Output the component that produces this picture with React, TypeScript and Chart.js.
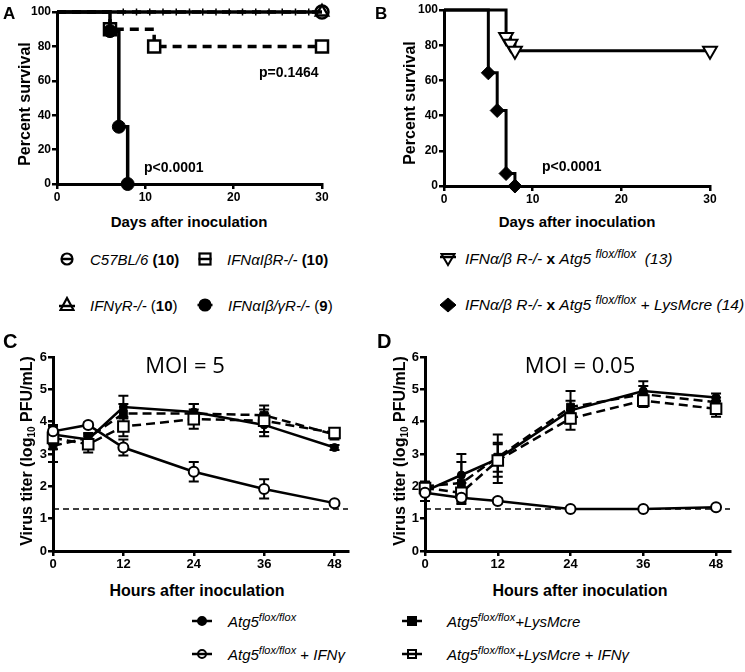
import React, { useEffect, useRef } from 'react';
import { Chart, registerables } from 'chart.js';
Chart.register(...registerables);

// ---------- Panel A: survival ----------
const daysC57 = [0, 30];
const survC57 = [100, 100];
const daysIFNgR = [0, 30];
const survIFNgR = [100, 100];
const censorDaysA = [7.5, 9, 10.5, 12, 13.5, 15, 16.5, 18, 19.5, 21, 22.5, 24, 25.5, 27, 28.5];
const daysIFNabR = [0, 6, 11, 30];
const survIFNabR = [100, 90, 80, 80];
const daysIFNabgR = [0, 6, 7, 8];
const survIFNabgR = [100, 88.9, 33.3, 0];
const dayTicks = [0, 10, 20, 30];
const pctTicks = [0, 20, 40, 60, 80, 100];

// ---------- Panel B: survival ----------
const daysAtg5 = [0, 7, 7.5, 8, 30];
const survAtg5 = [100, 84.6, 80.8, 76.9, 76.9];
const daysLys = [0, 5, 6, 7, 8];
const survLys = [100, 64.3, 42.9, 7.1, 0];

// ---------- Panels C/D: virus titer ----------
const hours = [0, 6, 12, 24, 36, 48];
const hourTicks = [0, 12, 24, 36, 48];
const titerTicks = [0, 1, 2, 3, 4, 5, 6];
const hourMax = 50.3;
const detectionLimit = 1.3;

const cAtg5 = [3.6, 3.45, 4.45, 4.3, 3.9, 3.2];
const cAtg5Err = [0.3, 0.15, 0.35, 0.25, 0.35, 0.08];
const cAtg5Ifn = [3.7, 3.9, 3.2, 2.45, 1.92, 1.48];
const cAtg5IfnErr = [0.15, 0.08, 0.25, 0.3, 0.3, 0.05];
const cLys = [3.25, 3.5, 4.25, 4.25, 4.2, 3.6];
const cLysErr = [0.5, 0.15, 0.3, 0.3, 0.3, 0.15];
const cLysIfn = [3.5, 3.3, 3.85, 4.08, 4.03, 3.65];
const cLysIfnErr = [0.35, 0.25, 0.3, 0.3, 0.35, 0.15];

const dAtg5 = [1.85, 2.35, 2.85, 4.35, 4.95, 4.75];
const dAtg5Err = [0.3, 0.65, 0.75, 0.6, 0.3, 0.12];
const dAtg5Ifn = [1.8, 1.65, 1.55, 1.3, 1.3, 1.35];
const dAtg5IfnErr = [0.05, 0.1, 0.08, 0.02, 0.02, 0.03];
const dLys = [2.0, 2.1, 2.9, 4.45, 4.85, 4.6];
const dLysErr = [0.1, 0.65, 0.45, 0.2, 0.25, 0.15];
const dLysIfn = [1.95, 1.8, 2.8, 4.1, 4.65, 4.4];
const dLysIfnErr = [0.1, 0.3, 0.5, 0.15, 0.2, 0.25];

const FONT = "'Liberation Sans', Arial, Helvetica, sans-serif";

const pts = (xs: number[], ys: number[]) => xs.map((x, i) => ({ x, y: ys[i] }));
const skipFirst = (n: number, r: number) => Array.from({ length: n }, (_, i) => (i === 0 ? 0 : r));

function axis(kind: 'x' | 'y', min: number, max: number, values: number[], size: number, fontSize: number) {
  return {
    type: 'linear',
    min,
    max,
    afterBuildTicks: (s: any) => {
      s.ticks = values.map((v) => ({ value: v }));
    },
    afterFit: (s: any) => {
      if (kind === 'x') s.height = size;
      else s.width = size;
    },
    grid: { drawOnChartArea: false, drawTicks: true, tickLength: 5, color: '#000', lineWidth: 2.5 },
    border: { display: true, color: '#000', width: 3 },
    ticks: { color: '#000', font: { family: FONT, size: fontSize, weight: 'bold' }, padding: 1, autoSkip: false, maxRotation: 0 },
    title: { display: false },
  };
}

const errorBarPlugin = {
  id: 'errbars',
  beforeDatasetsDraw(chart: any) {
    const ctx = chart.ctx;
    const xs = chart.scales.x;
    const ys = chart.scales.y;
    chart.data.datasets.forEach((ds: any) => {
      if (!ds.errors) return;
      ctx.save();
      ctx.strokeStyle = '#000';
      ctx.lineWidth = 2;
      ctx.setLineDash([]);
      ds.data.forEach((p: any, j: number) => {
        const e = ds.errors[j];
        if (!e) return;
        const px = xs.getPixelForValue(p.x);
        const y1 = ys.getPixelForValue(p.y + e);
        const y2 = ys.getPixelForValue(p.y - e);
        ctx.beginPath();
        ctx.moveTo(px, y1);
        ctx.lineTo(px, y2);
        ctx.moveTo(px - 5, y1);
        ctx.lineTo(px + 5, y1);
        ctx.moveTo(px - 5, y2);
        ctx.lineTo(px + 5, y2);
        ctx.stroke();
      });
      ctx.restore();
    });
  },
};

function baseOptions(padding: any, scales: any) {
  return {
    responsive: false,
    animation: false,
    devicePixelRatio: 1,
    events: [],
    layout: { padding },
    plugins: { legend: { display: false }, tooltip: { enabled: false } },
    scales,
  };
}

function configA() {
  return {
    type: 'line',
    data: {
      datasets: [
        {
          data: pts(daysIFNabgR, survIFNabgR), stepped: true, borderColor: '#000', borderWidth: 3.5,
          pointStyle: 'circle', pointRadius: skipFirst(daysIFNabgR.length, 6.5), pointBackgroundColor: '#000', pointBorderColor: '#000', pointBorderWidth: 1, clip: false,
        },
        {
          data: pts(daysIFNabR, survIFNabR), stepped: true, borderColor: '#000', borderWidth: 3.5, borderDash: [9, 6],
          pointStyle: 'rect', pointRadius: skipFirst(daysIFNabR.length, 8.5), pointBackgroundColor: '#fff', pointBorderColor: '#000', pointBorderWidth: 2.5, clip: false,
        },
        {
          data: pts(daysC57, survC57), borderColor: '#000', borderWidth: 3.5,
          pointStyle: 'circle', pointRadius: skipFirst(daysC57.length, 6.5), pointBackgroundColor: 'rgba(255,255,255,0)', pointBorderColor: '#000', pointBorderWidth: 2.5, clip: false,
        },
        {
          data: pts(daysIFNgR, survIFNgR), borderColor: '#000', borderWidth: 3.5, borderDash: [9, 6],
          pointStyle: 'triangle', pointRadius: skipFirst(daysIFNgR.length, 7), pointBackgroundColor: '#fff', pointBorderColor: '#000', pointBorderWidth: 2.5, clip: false,
        },
        {
          data: censorDaysA.map((d) => ({ x: d, y: 100 })), showLine: false, pointStyle: 'line', rotation: 90,
          pointRadius: 3.5, pointBorderColor: '#000', pointBorderWidth: 1.5, clip: false,
        },
      ],
    },
    options: baseOptions({ top: 12, right: 23, left: 0, bottom: 0 }, {
      x: axis('x', 0, 30, dayTicks, 26, 12),
      y: axis('y', 0, 100, pctTicks, 57, 12),
    }),
  };
}

function configB() {
  return {
    type: 'line',
    data: {
      datasets: [
        {
          data: pts(daysLys, survLys), stepped: true, borderColor: '#000', borderWidth: 3,
          pointStyle: 'rectRot', pointRadius: skipFirst(daysLys.length, 7), pointBackgroundColor: '#000', pointBorderColor: '#000', pointBorderWidth: 1, clip: false,
        },
        {
          data: pts(daysAtg5, survAtg5), stepped: true, borderColor: '#000', borderWidth: 3,
          pointStyle: 'triangle', pointRotation: 180, pointRadius: skipFirst(daysAtg5.length, 8), pointBackgroundColor: '#fff', pointBorderColor: '#000', pointBorderWidth: 2, clip: false,
        },
      ],
    },
    options: baseOptions({ top: 9, right: 35, left: 0, bottom: 0 }, {
      x: axis('x', 0, 30, dayTicks, 24, 12),
      y: axis('y', 0, 100, pctTicks, 72, 12),
    }),
  };
}

function configTiter(a: number[], aE: number[], ai: number[], aiE: number[], l: number[], lE: number[], li: number[], liE: number[], padRight: number) {
  return {
    type: 'line',
    data: {
      datasets: [
        {
          data: pts(hours, ai), errors: aiE, borderColor: '#000', borderWidth: 2.5,
          pointStyle: 'circle', pointRadius: 5, pointBackgroundColor: '#fff', pointBorderColor: '#000', pointBorderWidth: 2, clip: false,
        },
        {
          data: pts(hours, li), errors: liE, borderColor: '#000', borderWidth: 2.5, borderDash: [9, 5],
          pointStyle: 'rect', pointRadius: 7.5, pointBackgroundColor: '#fff', pointBorderColor: '#000', pointBorderWidth: 2, clip: false,
        },
        {
          data: pts(hours, a), errors: aE, borderColor: '#000', borderWidth: 2.5,
          pointStyle: 'circle', pointRadius: 4, pointBackgroundColor: '#000', pointBorderColor: '#000', pointBorderWidth: 1, clip: false,
        },
        {
          data: pts(hours, l), errors: lE, borderColor: '#000', borderWidth: 2.5, borderDash: [9, 5],
          pointStyle: 'rect', pointRadius: 5.5, pointBackgroundColor: '#000', pointBorderColor: '#000', pointBorderWidth: 1, clip: false,
        },
        {
          data: [{ x: 0, y: detectionLimit }, { x: hourMax, y: detectionLimit }], borderColor: '#000', borderWidth: 1.5, borderDash: [6, 4],
          pointRadius: 0, clip: false,
        },
      ],
    },
    options: baseOptions({ top: 32, right: padRight, left: 0, bottom: 0 }, {
      x: axis('x', 0, hourMax, hourTicks, 29, 13),
      y: axis('y', 0, 6, titerTicks, 53, 13),
    }),
    plugins: [errorBarPlugin],
  };
}

function ChartBox({ left, top, width, height, make }: { left: number; top: number; width: number; height: number; make: () => any }) {
  const ref = useRef<HTMLCanvasElement>(null);
  useEffect(() => {
    const chart = new Chart(ref.current as HTMLCanvasElement, make());
    return () => chart.destroy();
  }, []);
  return (
    <div style={{ position: 'absolute', left, top, width, height }}>
      <canvas ref={ref} width={width} height={height} style={{ width, height, display: 'block' }} />
    </div>
  );
}

function Txt({ x, y, size, bold, family, center, rotate, italic, children }: any) {
  const tx = center || rotate ? '-50%' : '0';
  return (
    <div
      style={{
        position: 'absolute', left: x, top: y, fontFamily: family || FONT, fontSize: size, fontWeight: bold ? 'bold' : 'normal',
        fontStyle: italic ? 'italic' : 'normal', lineHeight: 1, whiteSpace: 'nowrap', color: '#000',
        transform: `translate(${tx}, -50%)${rotate ? ' rotate(-90deg)' : ''}`,
      }}
    >
      {children}
    </div>
  );
}

function Sym({ x, y, shape, filled, w = 16, lineW = 16 }: any) {
  const h = 18;
  const c = w / 2;
  const m = h / 2;
  const fill = filled ? '#000' : '#fff';
  let marker: any = null;
  if (shape === 'circle') marker = <circle cx={c} cy={m} r={5.5} fill={fill} stroke="#000" strokeWidth={2.2} />;
  if (shape === 'smallcircle') marker = <circle cx={c} cy={m} r={4} fill={fill} stroke="#000" strokeWidth={2} />;
  if (shape === 'rect') marker = <rect x={c - 5.5} y={m - 5.5} width={11} height={11} fill={fill} stroke="#000" strokeWidth={2.2} />;
  if (shape === 'smallrect') marker = <rect x={c - 4} y={m - 4} width={8} height={8} fill={fill} stroke="#000" strokeWidth={2} />;
  if (shape === 'tri') marker = <polygon points={`${c},${m - 7} ${c + 6.5},${m + 5} ${c - 6.5},${m + 5}`} fill={fill} stroke="#000" strokeWidth={2.2} />;
  if (shape === 'dtri') marker = <polygon points={`${c},${m + 6} ${c + 6.5},${m - 5} ${c - 6.5},${m - 5}`} fill={fill} stroke="#000" strokeWidth={2} />;
  if (shape === 'diamond') marker = <polygon points={`${c},${m - 7} ${c + 8},${m} ${c},${m + 7} ${c - 8},${m}`} fill="#000" stroke="#000" strokeWidth={1} />;
  const lineY = shape === 'tri' ? m + 1 : shape === 'dtri' ? m - 2 : m;
  return (
    <svg width={w} height={h} style={{ position: 'absolute', left: x - c, top: y - m }}>
      {marker}
      <line x1={c - lineW / 2} y1={lineY} x2={c + lineW / 2} y2={lineY} stroke="#000" strokeWidth={2.5} />
    </svg>
  );
}

const Sup = ({ children, size = 11 }: any) => (
  <span style={{ fontSize: size, position: 'relative', top: -6 }}>{children}</span>
);

export default function App() {
  const LG = 15;
  const MOIFONT = "'Open Sans', 'Noto Sans', sans-serif";
  return (
    <div style={{ position: 'absolute', left: 0, top: 0, width: 745, height: 672, background: '#fff', overflow: 'hidden' }}>
      <ChartBox left={0} top={0} width={345} height={210} make={configA} />
      <ChartBox left={372} top={0} width={373} height={210} make={configB} />
      <ChartBox left={0} top={325} width={372} height={255}
        make={() => configTiter(cAtg5, cAtg5Err, cAtg5Ifn, cAtg5IfnErr, cLys, cLysErr, cLysIfn, cLysIfnErr, 24)} />
      <ChartBox left={372} top={325} width={373} height={255}
        make={() => configTiter(dAtg5, dAtg5Err, dAtg5Ifn, dAtg5IfnErr, dLys, dLysErr, dLysIfn, dLysIfnErr, 15)} />

      {/* panel letters */}
      <Txt x={3} y={13} size={17} bold>A</Txt>
      <Txt x={375} y={13} size={17} bold>B</Txt>
      <Txt x={3} y={341} size={20} bold>C</Txt>
      <Txt x={377} y={341} size={20} bold>D</Txt>

      {/* axis titles */}
      <Txt x={25} y={104} size={16} bold rotate>Percent survival</Txt>
      <Txt x={410} y={103} size={16} bold rotate>Percent survival</Txt>
      <Txt x={189} y={221} size={15} bold center>Days after inoculation</Txt>
      <Txt x={577} y={221} size={15} bold center>Days after inoculation</Txt>
      <Txt x={27} y={451} size={16} bold rotate>Virus titer (log<span style={{ fontSize: 10, position: 'relative', top: 3 }}>10</span> PFU/mL)</Txt>
      <Txt x={400} y={451} size={16} bold rotate>Virus titer (log<span style={{ fontSize: 10, position: 'relative', top: 3 }}>10</span> PFU/mL)</Txt>
      <Txt x={197} y={591} size={16} bold center>Hours after inoculation</Txt>
      <Txt x={580} y={591} size={16} bold center>Hours after inoculation</Txt>

      {/* annotations */}
      <Txt x={259} y={72} size={14} bold>p=0.1464</Txt>
      <Txt x={144} y={167} size={14} bold>p&lt;0.0001</Txt>
      <Txt x={542} y={166} size={14} bold>p&lt;0.0001</Txt>
      <Txt x={185} y={364} size={22} family={MOIFONT} center>MOI = 5</Txt>
      <Txt x={580} y={364} size={22} family={MOIFONT} center>MOI = 0.05</Txt>

      {/* legend A */}
      <Sym x={67} y={259} shape="circle" lineW={12} />
      <Txt x={90} y={259} size={LG}><i>C57BL/6</i> <b>(10)</b></Txt>
      <Sym x={205} y={259} shape="rect" lineW={13} />
      <Txt x={227} y={259} size={LG}><i>IFNαIβR-/-</i> <b>(10)</b></Txt>
      <Sym x={67} y={305} shape="tri" lineW={16} />
      <Txt x={90} y={305} size={LG}><i>IFNγR-/-</i> (<b>10</b>)</Txt>
      <Sym x={205} y={305} shape="circle" filled lineW={15} />
      <Txt x={228} y={305} size={LG}><i>IFNαIβ/γR-/-</i> (<b>9</b>)</Txt>

      {/* legend B */}
      <Sym x={448} y={259} shape="dtri" lineW={16} />
      <Txt x={465} y={259} size={15.5}><i>IFNα/β R-/-</i> <b>x</b> <i>Atg5 <Sup size={12}>flox/flox</Sup>&nbsp; (13)</i></Txt>
      <Sym x={448} y={305} shape="diamond" lineW={14} />
      <Txt x={465} y={305} size={15.5}><i>IFNα/β R-/-</i> <b>x</b> <i>Atg5 <Sup size={12}>flox/flox</Sup> + LysMcre (14)</i></Txt>

      {/* legend C/D */}
      <Sym x={202} y={621} shape="smallcircle" filled w={22} lineW={20} />
      <Txt x={228} y={621} size={LG} italic>Atg5<Sup>flox/flox</Sup></Txt>
      <Sym x={202} y={654} shape="smallcircle" w={22} lineW={20} />
      <Txt x={228} y={654} size={LG}><i>Atg5<Sup>flox/flox</Sup></i> + <i>IFNγ</i></Txt>
      <Sym x={412} y={621} shape="smallrect" filled w={22} lineW={20} />
      <Txt x={447} y={621} size={LG} italic>Atg5<Sup>flox/flox</Sup>+LysMcre</Txt>
      <Sym x={412} y={654} shape="smallrect" w={22} lineW={20} />
      <Txt x={447} y={654} size={LG} italic>Atg5<Sup>flox/flox</Sup>+LysMcre + IFNγ</Txt>
    </div>
  );
}
